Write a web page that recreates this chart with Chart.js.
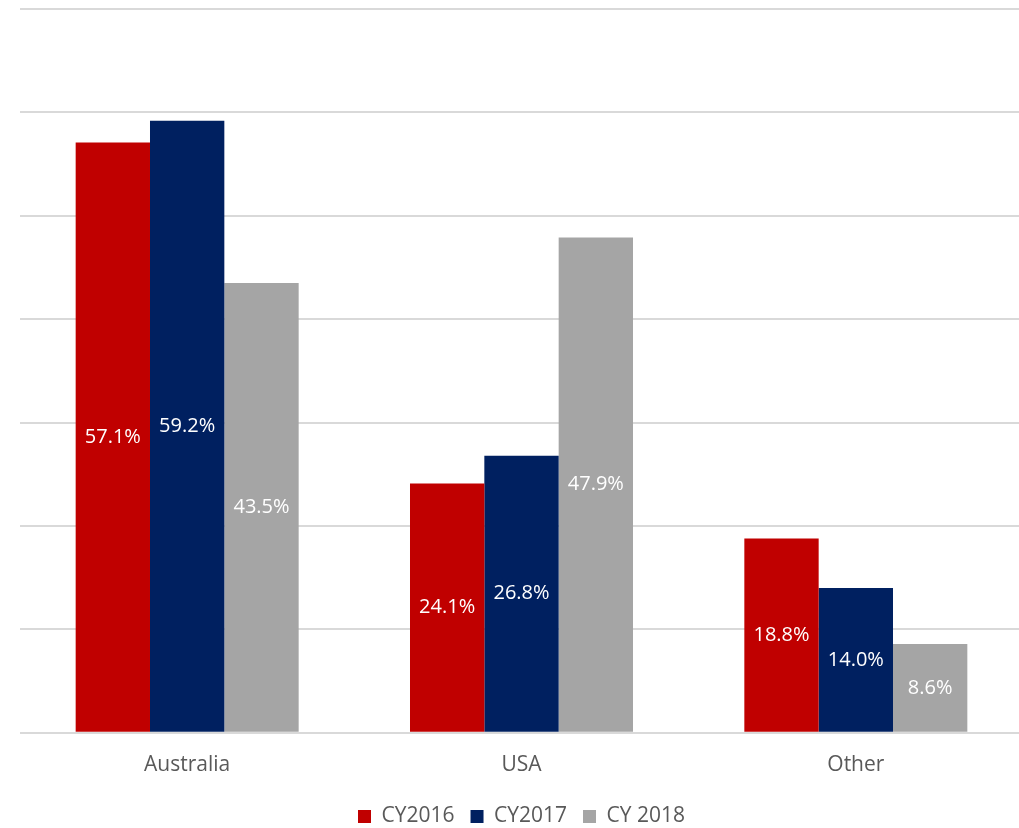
<!DOCTYPE html>
<html>
<head>
<meta charset="utf-8">
<script src="https://cdn.jsdelivr.net/npm/chart.js@4"></script>
<style>
  html, body { margin: 0; padding: 0; background: #fff; overflow: hidden; }
  #wrap { width: 1023px; height: 828px; }
</style>
</head>
<body>
<div id="wrap"><canvas id="regions"></canvas></div>
<script>
const regions = ['Australia', 'USA', 'Other'];
const seriesNames = ['CY2016', 'CY2017', 'CY 2018'];
const cy2016 = [57.1, 24.1, 18.8];
const cy2017 = [59.2, 26.8, 14.0];
const cy2018 = [43.5, 47.9, 8.6];
const colours = ['#C00000', '#002060', '#A5A5A5'];

// writes the percentage in the middle of each bar
const barLabels = {
  id: 'barLabels',
  afterDatasetsDraw(chart) {
    const ctx = chart.ctx;
    ctx.save();
    ctx.font = '20px "Open Sans"';
    ctx.fillStyle = '#ffffff';
    ctx.textAlign = 'center';
    ctx.textBaseline = 'middle';
    chart.data.datasets.forEach((ds, i) => {
      chart.getDatasetMeta(i).data.forEach((bar, j) => {
        const mid = (bar.y + bar.base) / 2;
        ctx.fillText(ds.data[j].toFixed(1) + '%', bar.x, mid);
      });
    });
    ctx.restore();
  }
};

const allSeries = [cy2016, cy2017, cy2018];

new Chart(document.getElementById('regions'), {
  type: 'bar',
  data: {
    labels: regions,
    datasets: allSeries.map((values, i) => ({
      label: seriesNames[i],
      data: values,
      backgroundColor: colours[i],
      categoryPercentage: 0.667,
      barPercentage: 1.0
    }))
  },
  options: {
    responsive: true,
    maintainAspectRatio: false,
    animation: false,
    layout: { padding: { top: 9, left: 20, right: 0, bottom: -9 } },
    plugins: {
      tooltip: { enabled: false },
      legend: {
        position: 'bottom',
        labels: {
          color: '#595959',
          font: { family: 'Open Sans', size: 21 },
          boxWidth: 13,
          boxHeight: 13,
          padding: 16
        }
      }
    },
    scales: {
      x: {
        grid: { display: false },
        border: { display: false },
        ticks: {
          color: '#595959',
          font: { family: 'Open Sans', size: 21 },
          padding: 12
        }
      },
      y: {
        min: 0,
        max: 70,
        ticks: { display: false, stepSize: 10 },
        border: { display: false },
        grid: { color: '#d9d9d9', lineWidth: 2, drawTicks: false }
      }
    }
  },
  plugins: [barLabels]
});
</script>
</body>
</html>
